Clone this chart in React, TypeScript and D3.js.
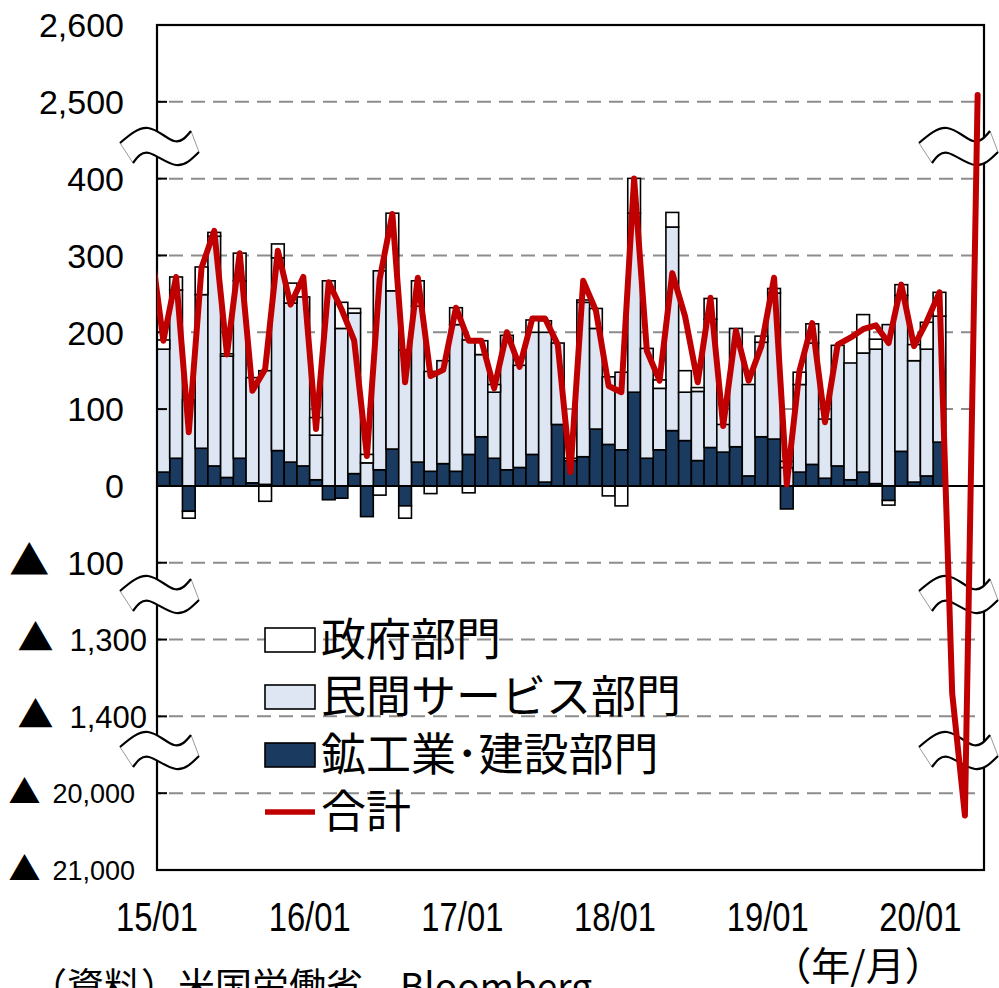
import React from 'react';
import * as d3 from 'd3';

// Monthly change in US nonfarm payrolls (thousands), 2015/01 – 2020/05
const months = d3.timeMonth.range(new Date(2015, 0, 1), new Date(2020, 5, 1));

// Goods-producing (mining, manufacturing, construction), 2015/01 – 2020/02
const goods = [
  18, 36, -33, 49, 26, 11, 36, 4, 2, 46, 31, 26,
  8, -18, -16, 16, -40, 21, 48, -26, 31, 19, 29, 19,
  41, 64, 36, 21, 24, 41, 5, 80, 33, 38, 74, 54,
  47, 122, 36, 47, 72, 59, 33, 50, 44, 51, 13, 64,
  61, -30, 18, 28, 10, 26, 8, 18, 3, -19, 45, 5,
  13, 57,
];

// Private service-providing
const privateServices = [
  160, 219, 112, 200, 299, 158, 231, 137, 148, 251, 207, 220,
  58, 267, 205, 209, 30, 259, 206, 177, 203, 130, 134, 191,
  149, 107, 86, 175, 133, 159, 195, 106, 3, 201, 131, 88,
  101, 233, 143, 80, 265, 63, 90, 167, 36, 154, 119, 123,
  190, 24, 114, 158, 77, 157, 152, 155, 175, 210, 203, 158,
  165, 164,
];

// Government
const government = [
  12, 17, -9, 36, 5, 3, 36, 0, -20, 18, 26, 0,
  23, 0, 34, 6, 11, -12, 101, -16, 33, -10, 0, 22,
  -9, 18, 10, 0, 0, 16, 15, 0, 0, 3, 26, -13,
  -26, 52, 0, 11, 19, 28, 5, 27, 0, 0, 0, 8,
  6, 8, 16, 25, 0, 0, 0, 50, 13, -6, 14, 21,
  35, 31,
];

// Total nonfarm, 2015/01 – 2020/05
const total = [
  189, 272, 70, 284, 332, 171, 303, 124, 152, 306, 236, 272,
  74, 265, 230, 189, 39, 269, 354, 135, 271, 143, 151, 232,
  189, 189, 127, 200, 155, 218, 218, 184, 18, 267, 228, 130,
  122, 407, 176, 137, 277, 221, 135, 245, 78, 202, 137, 182,
  271, 2, 150, 212, 83, 184, 193, 204, 209, 186, 262, 182,
  214, 252, -1370, -20290, 2509,
];
// Total for 2014/12, the segment leading into the first month
const totalPrev = 315;

// Broken value axis: ticks from top to bottom
const axisTicks = [2600, 2500, 400, 300, 200, 100, 0, -100, -1300, -1400, -20000, -21000];
const xTickLabels = ['15/01', '16/01', '17/01', '18/01', '19/01', '20/01'];
const legendLabels = ['政府部門', '民間サービス部門', '鉱工業･建設部門', '合計'];

const W = 999;
const H = 988;
const plot = { left: 157, right: 984, top: 25, bottom: 870 };
const COLORS = { goods: '#1b3a60', services: '#dde6f2', gov: '#ffffff', total: '#c00000' };
const LATIN = '"Liberation Sans", Arial, sans-serif';
const CJK = '"Noto Sans CJK JP", "Noto Sans", sans-serif';

const fmtKey = d3.timeFormat('%y/%m');
const keys = months.map(fmtKey);

const x = d3.scaleBand<string>().domain(keys).range([plot.left, plot.right]).padding(0);
const rowH = (plot.bottom - plot.top) / (axisTicks.length - 1);
const tickY = axisTicks.map((_, k) => plot.top + k * rowH);
const y = d3
  .scaleLinear()
  .domain([...axisTicks].reverse())
  .range([...tickY].reverse());

type Row = { key: string; goods: number; services: number; gov: number };
const rows: Row[] = goods.map((g, i) => ({
  key: keys[i],
  goods: g,
  services: privateServices[i],
  gov: government[i],
}));
const seriesKeys = ['goods', 'services', 'gov'];
const stacked = d3.stack<Row>().keys(seriesKeys).offset(d3.stackOffsetDiverging)(rows);

const bw = x.bandwidth();
const linePts = [
  { cx: (x(keys[0]) as number) - x.step() / 2, v: totalPrev },
  ...total.map((v, i) => ({ cx: (x(keys[i]) as number) + bw / 2, v })),
];
const totalLine = d3
  .line<{ cx: number; v: number }>()
  .x((d) => d.cx)
  .y((d) => y(d.v))(linePts) as string;

// Wavy "axis break" mark
const breakTop: [number, number][] = [[-40, -4], [-12, -19], [14, -6], [31, -16]];
const breakBottom: [number, number][] = [[-27, 16], [-11, 6], [16, 18], [39, 5]];
const wave = d3.line<[number, number]>().curve(d3.curveNatural);
function BreakMark({ cx, cy }: { cx: number; cy: number }) {
  const top = breakTop.map(([a, b]) => [cx + a, cy + b] as [number, number]);
  const bot = breakBottom.map(([a, b]) => [cx + a, cy + b] as [number, number]);
  const topPath = wave(top) as string;
  const botPath = wave(bot) as string;
  const botRev = wave([...bot].reverse()) as string;
  const area = topPath + 'L' + botRev.slice(1) + 'Z';
  return (
    <g>
      <path d={area} fill="#fff" stroke="none" />
      <line x1={top[0][0]} y1={top[0][1]} x2={bot[0][0]} y2={bot[0][1]} stroke="#999" strokeWidth={1} />
      <line x1={top[3][0]} y1={top[3][1]} x2={bot[3][0]} y2={bot[3][1]} stroke="#999" strokeWidth={1} />
      <path d={topPath} fill="none" stroke="#000" strokeWidth={2.2} />
      <path d={botPath} fill="none" stroke="#000" strokeWidth={2.2} />
    </g>
  );
}
const breakYs = [147, 595, 751];
const breakXs = [160, 959];

const fmtNum = d3.format(',');
function tickStyle(v: number) {
  if (v < 0 && Math.abs(v) >= 10000) return { size: 27, right: 135, tri: 32, gap: 12 };
  if (v < 0 && Math.abs(v) >= 1000) return { size: 31, right: 147, tri: 36, gap: 16 };
  return { size: 34, right: 124, tri: 40, gap: 18 };
}

export default function App() {
  const legendY = [640, 697, 755, 812];
  return (
    <svg
      width={W}
      height={H}
      viewBox={`0 0 ${W} ${H}`}
      style={{ position: 'absolute', left: 0, top: 0, background: '#fff' }}
    >
      <defs>
        <clipPath id="plotClip">
          <rect x={plot.left} y={plot.top} width={plot.right - plot.left} height={plot.bottom - plot.top} />
        </clipPath>
      </defs>
      <rect x={0} y={0} width={W} height={H} fill="#fff" />

      {/* dashed gridlines */}
      {axisTicks.map((v, k) =>
        v === 0 || k === 0 || k === axisTicks.length - 1 ? null : (
          <line
            key={'g' + k}
            x1={plot.left}
            x2={plot.right}
            y1={y(v)}
            y2={y(v)}
            stroke="#8c8c8c"
            strokeWidth={2}
            strokeDasharray="14 8"
            strokeDashoffset={-12}
          />
        )
      )}

      {/* stacked bars */}
      {stacked.map((s) => (
        <g key={s.key} fill={COLORS[s.key as keyof typeof COLORS]} stroke="#000" strokeWidth={1.6}>
          {s.map((d, i) => {
            const y0 = y(d[0]);
            const y1 = y(d[1]);
            if (Math.abs(y0 - y1) < 0.01) return null;
            return (
              <rect
                key={i}
                x={x(d.data.key)}
                width={bw}
                y={Math.min(y0, y1)}
                height={Math.abs(y0 - y1)}
              />
            );
          })}
        </g>
      ))}

      {/* zero line */}
      <line x1={plot.left} x2={plot.right} y1={y(0)} y2={y(0)} stroke="#000" strokeWidth={2} />

      {/* plot frame and ticks */}
      <rect
        x={plot.left}
        y={plot.top}
        width={plot.right - plot.left}
        height={plot.bottom - plot.top}
        fill="none"
        stroke="#000"
        strokeWidth={2.2}
      />
      {axisTicks.map((v, k) => (
        <line key={'t' + k} x1={plot.left} x2={plot.left + 10} y1={y(v)} y2={y(v)} stroke="#000" strokeWidth={2} />
      ))}

      {/* axis break marks */}
      {breakYs.map((by) => breakXs.map((bx) => <BreakMark key={bx + '-' + by} cx={bx} cy={by} />))}

      {/* total line */}
      <path
        d={totalLine}
        fill="none"
        stroke={COLORS.total}
        strokeWidth={6}
        strokeLinejoin="round"
        strokeLinecap="round"
        clipPath="url(#plotClip)"
      />

      {/* value axis labels */}
      {axisTicks.map((v, k) => {
        const st = tickStyle(v);
        return (
          <text
            key={'l' + k}
            x={st.right}
            y={y(v)}
            dy="0.36em"
            textAnchor="end"
            fontSize={st.size}
            fontFamily={LATIN}
            fill="#000"
          >
            {v < 0 ? (
              <tspan fontFamily={CJK} fontSize={st.tri}>
                ▲
              </tspan>
            ) : null}
            <tspan dx={v < 0 ? st.gap : 0}>{fmtNum(Math.abs(v))}</tspan>
          </text>
        );
      })}

      {/* category axis labels */}
      {xTickLabels.map((lab, i) => (
        <text
          key={lab}
          transform={`translate(${x(keys[i * 12]) as number},931) scale(0.82,1)`}
          textAnchor="middle"
          fontSize={40}
          fontFamily={LATIN}
          fill="#000"
        >
          {lab}
        </text>
      ))}
      <text x={858} y={980} textAnchor="middle" fontSize={39} fontFamily={CJK} fill="#000">
        （年/月）
      </text>
      <text x={30} y={1000} fontSize={37} fontFamily={CJK} fill="#000">
        （資料）米国労働省、Bloomberg
      </text>

      {/* legend */}
      {legendLabels.map((lab, i) => {
        const ly = legendY[i];
        const swatch =
          i < 3 ? (
            <rect
              x={265}
              y={ly - 12}
              width={50}
              height={24}
              fill={[COLORS.gov, COLORS.services, COLORS.goods][i]}
              stroke="#000"
              strokeWidth={1.6}
            />
          ) : (
            <line x1={265} x2={315} y1={ly} y2={ly} stroke={COLORS.total} strokeWidth={5.5} />
          );
        return (
          <g key={lab}>
            {swatch}
            <text x={321} y={ly} dy="0.36em" fontSize={45} fontFamily={CJK} fill="#000">
              {lab}
            </text>
          </g>
        );
      })}
    </svg>
  );
}
